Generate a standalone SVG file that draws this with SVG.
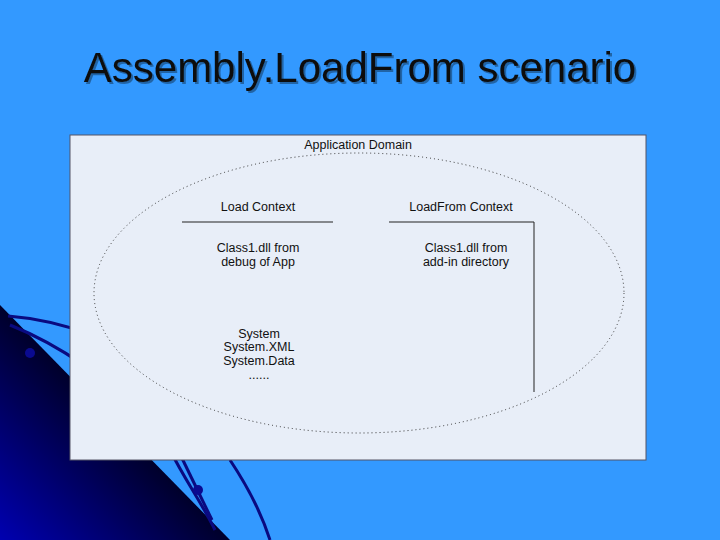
<svg xmlns="http://www.w3.org/2000/svg" width="720" height="540" viewBox="0 0 720 540">
<defs>
<linearGradient id="tri" x1="0" y1="1" x2="0.6" y2="0.4">
<stop offset="0" stop-color="#0000b0"/><stop offset="0.7" stop-color="#000040"/><stop offset="1" stop-color="#000010"/>
</linearGradient>
<filter id="sh" x="-5%" y="-20%" width="110%" height="140%"><feDropShadow dx="2" dy="2" stdDeviation="0.5" flood-color="#000" flood-opacity="0.35"/></filter>
<style>
.t{font-family:"Liberation Sans",Arial,sans-serif;font-size:12.5px;fill:#111;text-anchor:middle}
.c{fill:none;stroke:#0a0a80;stroke-width:3}
.l{stroke:#222;stroke-width:1}
</style>
</defs>
<rect width="720" height="540" fill="#3399ff"/>
<g id="decor">
<path d="M0 305 L230 540 L0 540 Z" fill="url(#tri)"/>
<path class="c" d="M8 316 C60 320 120 340 180 380"/>
<path class="c" d="M10 325 C60 345 110 380 150 420"/>
<path class="c" d="M170 450 C185 480 200 500 215 530"/>
<path class="c" d="M178 450 C190 475 200 495 212 520"/>
<path class="c" d="M230 460 C250 490 262 515 270 540"/>
<circle cx="30" cy="353" r="5" fill="#0a0a90"/>
<circle cx="198" cy="490" r="5" fill="#0a0a90"/>
</g>
<text x="360" y="82" font-family="Liberation Sans,Arial,sans-serif" font-size="42" text-anchor="middle" fill="#111" filter="url(#sh)">Assembly.LoadFrom scenario</text>
<g id="panel">
<rect x="70" y="135" width="576" height="325" fill="#e8eef8" stroke="#556" stroke-width="1"/>
<ellipse cx="359" cy="293" rx="265" ry="140" fill="none" stroke="#333" stroke-width="1" stroke-dasharray="1 3"/>
<text class="t" x="358" y="149">Application Domain</text>
</g>
<g id="loadctx">
<text class="t" x="258" y="211">Load Context</text>
<line class="l" x1="182" y1="222" x2="333" y2="222"/>
<text class="t" x="258" y="252">Class1.dll from</text>
<text class="t" x="258" y="266">debug of App</text>
<text class="t" x="259" y="338">System</text>
<text class="t" x="259" y="351">System.XML</text>
<text class="t" x="259" y="365">System.Data</text>
<text class="t" x="259" y="379">......</text>
</g>
<g id="loadfromctx">
<text class="t" x="461" y="211">LoadFrom Context</text>
<path class="l" fill="none" d="M389 222 H534 V392"/>
<text class="t" x="466" y="252">Class1.dll from</text>
<text class="t" x="466" y="266">add-in directory</text>
</g>
</svg>
